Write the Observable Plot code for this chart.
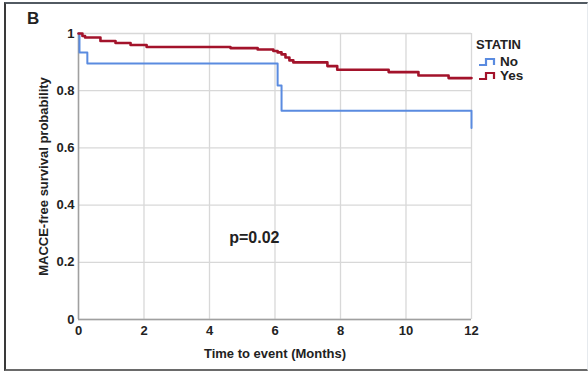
<!DOCTYPE html>
<html>
<head>
<meta charset="utf-8">
<script src="https://cdn.jsdelivr.net/npm/d3@7"></script>
<script src="https://cdn.jsdelivr.net/npm/@observablehq/plot@0.6"></script>
<style>
  html, body { margin: 0; padding: 0; background: #fff; }
  #wrap { position: relative; width: 588px; height: 371px; overflow: hidden; font-family: "Liberation Sans", Arial, sans-serif; }
  #wrap svg { position: absolute; left: 0; top: 0; }
  .frame { position: absolute; left: 4px; top: 2px; width: 581px; height: 365px;
           border-top: 2px solid #525a62; border-left: 2px solid #3a3a3a; border-bottom: 2px solid #6a6a6a; border-right: 1px solid #e6eaee; }
  .panel { position: absolute; left: 27px; top: 9px; font-weight: bold; font-size: 17px; color: #222; }
  .legend { position: absolute; left: 476px; top: 38px; font-weight: bold; color: #222; }
  .legend .title { font-size: 13px; line-height: 14px; margin-bottom: 3px; }
  .legend .row { display: flex; align-items: center; font-size: 13.5px; line-height: 14px; height: 14px; margin-left: 2px; }
  .legend svg { position: static !important; margin-right: 2px; }
</style>
</head>
<body>
<div id="wrap">
  <div class="frame"></div>
</div>
<script>
// ---- data ----
const groups = ["No", "Yes"];
const groupColors = ["#5a8be0", "#a3132b"];
const noTimes = [0, 0.03, 0.27, 6.08, 6.2, 12];
const noSurv  = [1, 0.934, 0.895, 0.818, 0.73, 0.67];
const yesTimes = [0, 0.12, 0.2, 0.67, 1.13, 1.59, 2.08, 4.64, 5.47, 5.95, 6.08, 6.2, 6.32, 6.44, 6.56, 7.6, 7.9, 9.47, 10.38, 11.3, 12];
const yesSurv  = [1, 0.991, 0.986, 0.974, 0.967, 0.960, 0.953, 0.949, 0.944, 0.939, 0.934, 0.927, 0.916, 0.906, 0.899, 0.886, 0.873, 0.865, 0.853, 0.844, 0.844];
const xTicks = [0, 2, 4, 6, 8, 10, 12];
const yTicks = [0, 0.2, 0.4, 0.6, 0.8, 1];
const yTickLabels = ["0", "0.2", "0.4", "0.6", "0.8", "1"];
const pText = ["p=0.02"];
const pPos = [5.37, 0.287];

const rows = [];
noTimes.forEach((t, i) => rows.push({group: "No", time: t, surv: noSurv[i]}));
yesTimes.forEach((t, i) => rows.push({group: "Yes", time: t, surv: yesSurv[i]}));

const chart = Plot.plot({
  width: 588, height: 371,
  marginLeft: 78, marginRight: 117, marginTop: 33, marginBottom: 52,
  style: {fontFamily: "'Liberation Sans', Arial, sans-serif", fontSize: "13px", fontWeight: "bold", color: "#222", background: "transparent", overflow: "visible"},
  x: {domain: [0, 12]},
  y: {domain: [0, 1]},
  color: {domain: groups, range: groupColors},
  marks: [
    Plot.gridX(xTicks, {stroke: "#d8d8d8", strokeOpacity: 1, strokeWidth: 1.3}),
    Plot.gridY(yTicks, {stroke: "#d8d8d8", strokeOpacity: 1, strokeWidth: 1.3}),
    Plot.axisX({ticks: xTicks, tickSize: 0, tickPadding: 6, tickFormat: d => String(d), fontSize: 13,
      label: "Time to event (Months)", labelAnchor: "center", labelArrow: "none", labelOffset: 38}),
    Plot.axisY({ticks: yTicks, tickSize: 0, tickPadding: 4, tickFormat: d => yTickLabels[yTicks.indexOf(d)], fontSize: 13,
      label: "MACCE-free survival probability", labelAnchor: "center", labelArrow: "none", labelOffset: 40}),
    Plot.ruleX([0], {stroke: "#a0a0a0", strokeWidth: 1.5}),
    Plot.ruleY([0], {stroke: "#a0a0a0", strokeWidth: 1.5}),
    Plot.line(rows.filter(d => d.group === "No"), {x: "time", y: "surv", stroke: "group", curve: "step-after", strokeWidth: 2}),
    Plot.line(rows.filter(d => d.group === "Yes"), {x: "time", y: "surv", stroke: "group", curve: "step-after", strokeWidth: 2.6}),
    Plot.text(pText, {x: [pPos[0]], y: [pPos[1]], fontSize: 16, fontWeight: "bold", fill: "#222"})
  ]
});
const wrap = document.getElementById("wrap");
wrap.appendChild(chart);

const panel = document.createElement("div");
panel.className = "panel"; panel.textContent = "B";
wrap.appendChild(panel);

const legend = document.createElement("div");
legend.className = "legend";
let html = `<div class="title">STATIN</div>`;
groups.forEach((g, i) => {
  html += `<div class="row"><svg width="20" height="10" viewBox="0 0 20 10"><path d="M1,8 H8 V2 H16 V8" fill="none" stroke="${groupColors[i]}" stroke-width="2.2"/></svg><span>${g}</span></div>`;
});
legend.innerHTML = html;
wrap.appendChild(legend);
</script>
</body>
</html>
